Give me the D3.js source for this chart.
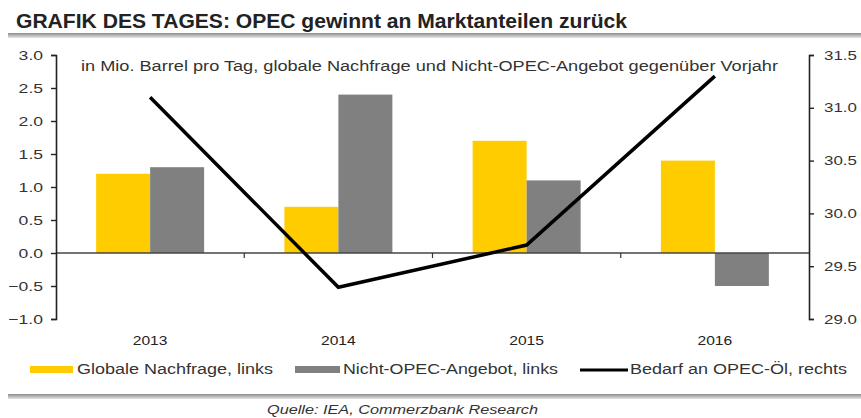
<!DOCTYPE html>
<html><head><meta charset="utf-8">
<script src="https://cdn.jsdelivr.net/npm/d3@7"></script>
<style>body{margin:0;background:#fff;} text{font-family:"Liberation Sans",Arial,sans-serif;}</style>
</head><body>
<svg id="c" width="861" height="418"></svg>
<script>
const years = ["2013","2014","2015","2016"];
const seriesNames = ["Globale Nachfrage, links","Nicht-OPEC-Angebot, links","Bedarf an OPEC-Öl, rechts"];
const demand = [1.2, 0.7, 1.7, 1.4];
const nonOpec = [1.3, 2.4, 1.1, -0.5];
const opecCall = [31.1, 29.3, 29.7, 31.3];
const leftTicks = [-1.0,-0.5,0.0,0.5,1.0,1.5,2.0,2.5,3.0];
const rightTicks = [29.0,29.5,30.0,30.5,31.0,31.5];
const title = "GRAFIK DES TAGES: OPEC gewinnt an Marktanteilen zurück";
const subtitle = "in Mio. Barrel pro Tag, globale Nachfrage und Nicht-OPEC-Angebot gegenüber Vorjahr";
const source = "Quelle: IEA, Commerzbank Research";

const svg = d3.select("#c");
const L = 56, R = 809, T = 55, B = 319;
const yL = d3.scaleLinear().domain([-1,3]).range([B,T]);
const yR = d3.scaleLinear().domain([29,31.5]).range([B,T]);
const x0 = d3.scaleBand().domain(years).range([L,R]).padding(0);
const half = 54;
const x1 = d3.scaleBand().domain(["d","n"]).range([x0.bandwidth()/2-half, x0.bandwidth()/2+half]);
const colors = {d:"#FFCC00", n:"#808080"};

function stretch(sel, f){ sel.each(function(){ const w=this.getComputedTextLength(); d3.select(this).attr("textLength", w*f).attr("lengthAdjust","spacingAndGlyphs"); }); }

// gradient for rules
const defs = svg.append("defs");
const g1 = defs.append("linearGradient").attr("id","rule").attr("x1",0).attr("y1",0).attr("x2",0).attr("y2",1);
g1.append("stop").attr("offset","0%").attr("stop-color","#8c8c8c");
g1.append("stop").attr("offset","50%").attr("stop-color","#b8b8b8");
g1.append("stop").attr("offset","100%").attr("stop-color","#e6e6e6");

// title
svg.append("text").attr("x",16).attr("y",28).attr("font-size",21).attr("font-weight","bold").attr("fill","#222")
  .attr("textLength",611).attr("lengthAdjust","spacingAndGlyphs").text(title);
svg.append("rect").attr("x",8).attr("y",33).attr("width",853).attr("height",5).attr("fill","url(#rule)");

// subtitle
svg.append("text").attr("x",81).attr("y",71).attr("font-size",14).attr("fill","#333")
  .attr("textLength",697).attr("lengthAdjust","spacingAndGlyphs").text(subtitle);

// bars
const data = years.map((y,i)=>({year:y, vals:[{k:"d",v:demand[i]},{k:"n",v:nonOpec[i]}]}));
svg.append("g").selectAll("g").data(data).join("g")
  .attr("transform", d=>`translate(${x0(d.year)},0)`)
  .selectAll("rect").data(d=>d.vals).join("rect")
  .attr("x", d=>x1(d.k)).attr("width", x1.bandwidth())
  .attr("y", d=>yL(Math.max(0,d.v))).attr("height", d=>Math.abs(yL(d.v)-yL(0)))
  .attr("fill", d=>colors[d.k]);

// zero line with category ticks
svg.append("line").attr("x1",L).attr("x2",R).attr("y1",yL(0)).attr("y2",yL(0)).attr("stroke","#444").attr("stroke-width",1.5);
const xAxis = d3.axisBottom(x0).tickSize(0).tickPadding(0).tickFormat("");
svg.append("g").selectAll("line").data(years.slice(1)).join("line")
  .attr("x1", d=>x0(d)).attr("x2", d=>x0(d)).attr("y1", yL(0)).attr("y2", yL(0)+5).attr("stroke","#333").attr("stroke-width",1.2);

// year labels
const yl = svg.append("g").selectAll("text").data(years).join("text")
  .attr("x", d=>x0(d)+x0.bandwidth()/2).attr("y",345).attr("text-anchor","middle").attr("font-size",13).attr("fill","#222").text(d=>d);
stretch(yl,1.2);

// left axis
const gl = svg.append("g").attr("transform",`translate(${L},0)`)
  .call(d3.axisLeft(yL).tickValues(leftTicks).tickFormat(d3.format(".1f")).tickSize(5).tickSizeOuter(5).tickPadding(8));
gl.select(".domain").attr("stroke","#222").attr("stroke-width",1.6);
gl.selectAll(".tick line").attr("stroke","#222").attr("stroke-width",1.4);
gl.selectAll("text").attr("font-size",13).attr("fill","#333").attr("font-family","Liberation Sans, Arial, sans-serif");
stretch(gl.selectAll("text"),1.35);

// right axis
const gr = svg.append("g").attr("transform",`translate(${R},0)`)
  .call(d3.axisRight(yR).tickValues(rightTicks).tickFormat(d3.format(".1f")).tickSize(5).tickSizeOuter(5).tickPadding(10));
gr.select(".domain").attr("stroke","#222").attr("stroke-width",1.6);
gr.selectAll(".tick line").attr("stroke","#222").attr("stroke-width",1.4);
gr.selectAll("text").attr("font-size",13).attr("fill","#333").attr("font-family","Liberation Sans, Arial, sans-serif");
stretch(gr.selectAll("text"),1.3);

// line
const line = d3.line().x((d,i)=>x0(years[i])+x0.bandwidth()/2).y(d=>yR(d));
svg.append("path").datum(opecCall).attr("d",line).attr("fill","none").attr("stroke","#000").attr("stroke-width",3.5).attr("stroke-linejoin","miter");

// legend
const lg = svg.append("g");
lg.append("rect").attr("x",30).attr("y",366).attr("width",43).attr("height",7).attr("fill",colors.d);
lg.append("text").attr("x",77).attr("y",374).attr("font-size",14).attr("fill","#333").attr("textLength",196).attr("lengthAdjust","spacingAndGlyphs").text(seriesNames[0]);
lg.append("rect").attr("x",295).attr("y",366).attr("width",45).attr("height",7).attr("fill",colors.n);
lg.append("text").attr("x",343).attr("y",374).attr("font-size",14).attr("fill","#333").attr("textLength",215).attr("lengthAdjust","spacingAndGlyphs").text(seriesNames[1]);
lg.append("line").attr("x1",580).attr("x2",628).attr("y1",370).attr("y2",370).attr("stroke","#000").attr("stroke-width",3);
lg.append("text").attr("x",630).attr("y",374).attr("font-size",14).attr("fill","#333").attr("textLength",217).attr("lengthAdjust","spacingAndGlyphs").text(seriesNames[2]);

// bottom rule and source
svg.append("rect").attr("x",8).attr("y",394).attr("width",853).attr("height",5).attr("fill","url(#rule)");
svg.append("text").attr("x",267).attr("y",414).attr("font-size",13).attr("font-style","italic").attr("fill","#333")
  .attr("textLength",271).attr("lengthAdjust","spacingAndGlyphs").text(source);
</script>
</body></html>
